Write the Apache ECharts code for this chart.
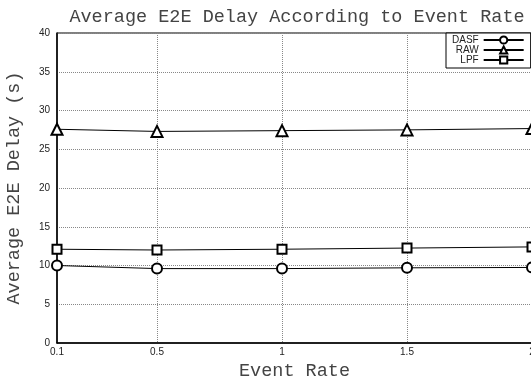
<!DOCTYPE html>
<html>
<head>
<meta charset="utf-8">
<script src="https://cdn.jsdelivr.net/npm/echarts@6/dist/echarts.min.js"></script>
<style>
  html, body { margin: 0; padding: 0; background: #fff; }
  #chart { width: 531px; height: 380px; }
</style>
</head>
<body>
<div id="chart"></div>
<script>
// Event rates on the x axis and mean end-to-end delay (seconds) per scheme
const eventRates = [0.1, 0.5, 1, 1.5, 2];
const xTicks = [0.1, 0.5, 1, 1.5, 2];
const dasfDelay = [10.0, 9.6, 9.6, 9.7, 9.75];
const rawDelay = [27.58, 27.3, 27.4, 27.5, 27.67];
const lpfDelay = [12.1, 12.0, 12.1, 12.25, 12.4];

const mono = '"Liberation Mono", "DejaVu Sans Mono", monospace';
const sans = '"Liberation Sans", Arial, sans-serif';

function pairs(ys) { return eventRates.map((x, i) => [x, ys[i]]); }

function lineSeries(name, ys, symbol, size) {
  return {
    name: name,
    type: 'line',
    data: pairs(ys),
    symbol: symbol,
    symbolSize: size,
    showAllSymbol: true,
    lineStyle: { color: '#000', width: 1 },
    itemStyle: { color: '#000', borderColor: '#000', borderWidth: 0.9 },
    emphasis: { disabled: true },
    animation: false,
    clip: false,
    z: 3
  };
}

const chart = echarts.init(document.getElementById('chart'), null, { renderer: 'canvas' });
chart.setOption({
  backgroundColor: '#fff',
  animation: false,
  title: {
    text: 'Average E2E Delay According to Event Rate',
    left: 292,
    textAlign: 'center',
    top: 3,
    textStyle: { fontFamily: mono, fontSize: 18.5, fontWeight: 'normal', color: '#444' }
  },
  grid: {
    left: 57, top: 33, width: 475, height: 310,
    outerBoundsMode: 'none',
    containLabel: false,
    show: true, borderColor: '#000', borderWidth: 1, backgroundColor: 'transparent'
  },
  legend: {
    orient: 'vertical',
    left: 446, top: 33,
    align: 'right',
    itemWidth: 40, itemHeight: 9, itemGap: 0,
    padding: [2, 6, 3, 6],
    backgroundColor: '#fff',
    borderColor: '#000', borderWidth: 1, borderRadius: 0,
    textStyle: { fontFamily: sans, fontSize: 10, color: '#222', lineHeight: 9, padding: [0, 0, 0, 0] },
    data: ['DASF', 'RAW', 'LPF']
  },
  xAxis: {
    type: 'value',
    min: 0.1, max: 2,
    name: 'Event Rate',
    nameLocation: 'middle',
    nameGap: 14,
    nameTextStyle: { fontFamily: mono, fontSize: 18.5, color: '#444' },
    axisLine: { show: true, lineStyle: { color: '#000', width: 1.5 } },
    axisTick: { show: false, customValues: xTicks },
    axisLabel: {
      customValues: xTicks,
      fontFamily: sans, fontSize: 10, color: '#222', margin: 4,
      formatter: v => String(v)
    },
    splitLine: { show: true, customValues: xTicks, lineStyle: { color: '#888', type: [1, 1], width: 1 } }
  },
  yAxis: {
    type: 'value',
    min: 0, max: 40, interval: 5,
    name: 'Average E2E Delay (s)',
    nameLocation: 'middle',
    nameGap: 33,
    nameTextStyle: { fontFamily: mono, fontSize: 18.5, color: '#444' },
    axisLine: { show: true, lineStyle: { color: '#000', width: 1.5 } },
    axisTick: { show: false },
    axisLabel: { fontFamily: sans, fontSize: 10, color: '#222', margin: 7 },
    splitLine: { show: true, lineStyle: { color: '#888', type: [1, 1], width: 1 } }
  },
  series: [
    lineSeries('DASF', dasfDelay, 'emptyCircle', 10),
    lineSeries('RAW', rawDelay, 'emptyTriangle', 11),
    lineSeries('LPF', lpfDelay, 'emptyRect', 9)
  ]
});
</script>
</body>
</html>
